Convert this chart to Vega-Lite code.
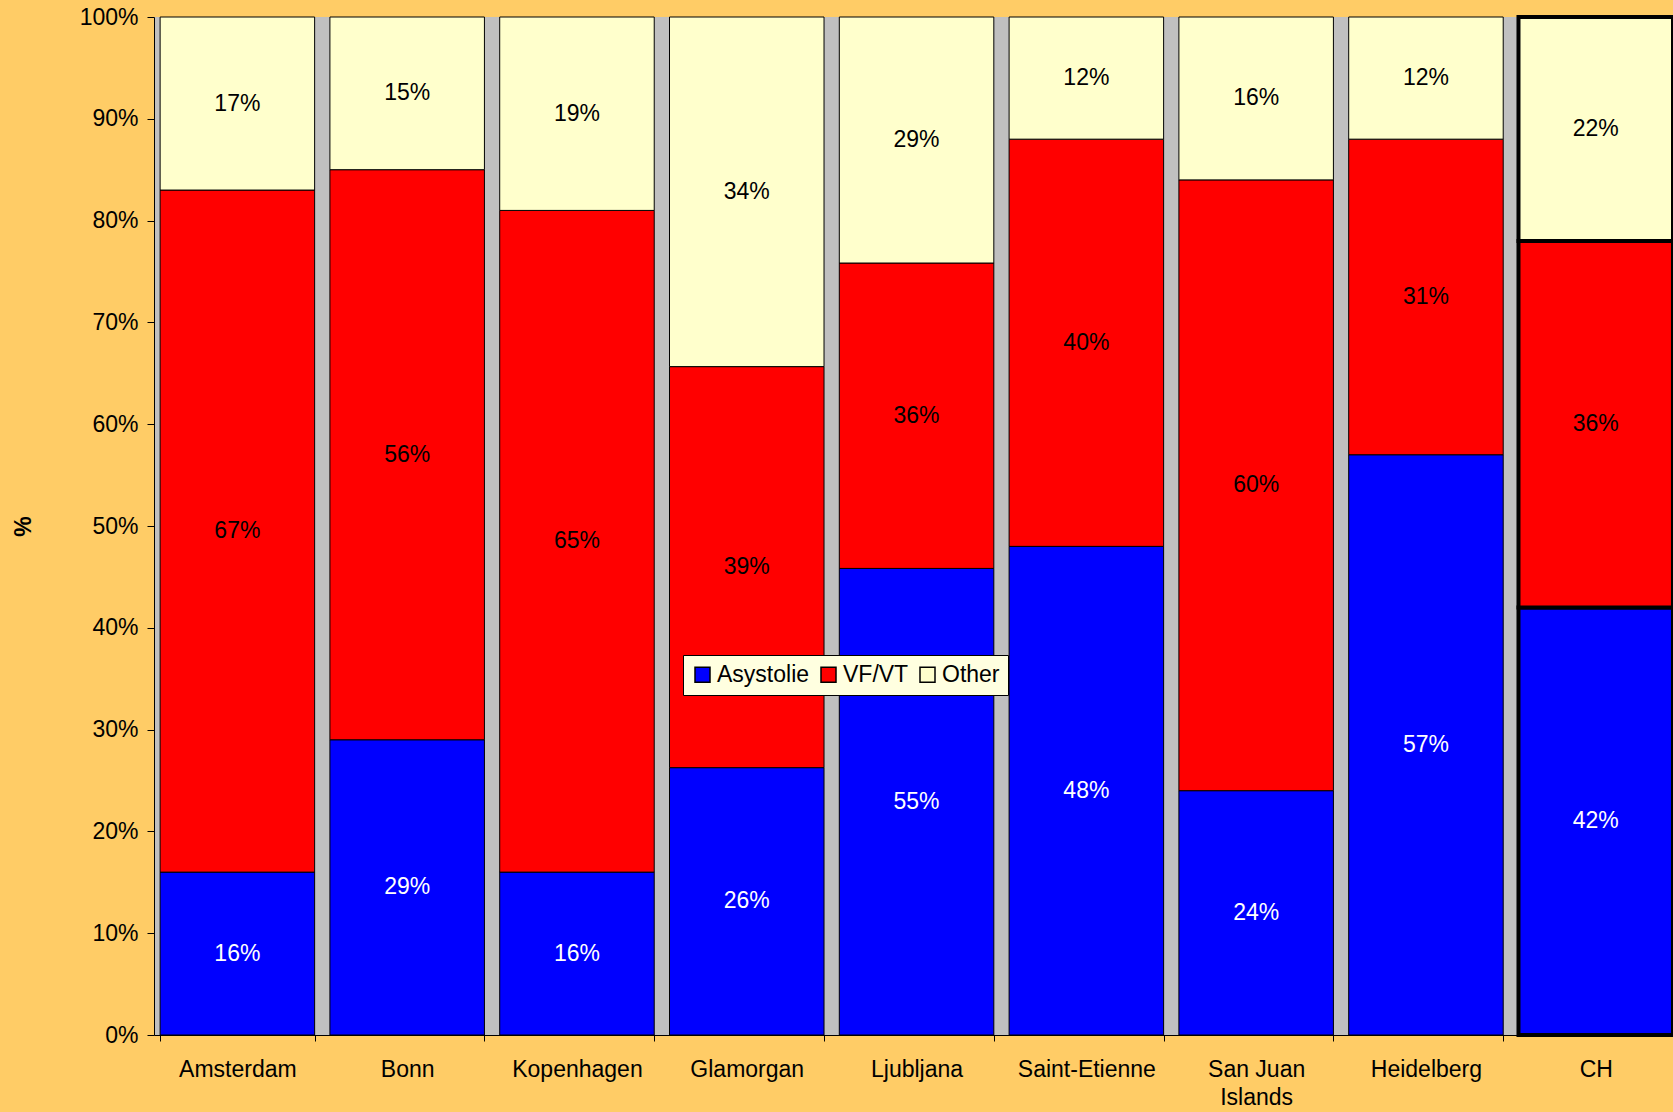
{
  "$schema": "https://vega.github.io/schema/vega-lite/v6.json",
  "width": 1519,
  "height": 1018,
  "autosize": {"type": "none"},
  "padding": {"left": 154, "top": 17, "right": 0, "bottom": 77},
  "background": "#FFCC66",
  "config": {
    "font": "Liberation Sans",
    "view": {"fill": "#C0C0C0", "stroke": null},
    "axis": {"labelFont": "Liberation Sans", "labelFontSize": 23, "labelColor": "black", "domainColor": "black", "tickColor": "black", "grid": false}
  },
  "data": {"values": [
    {"city": "Amsterdam", "type": "Asystolie", "value": 16},
    {"city": "Amsterdam", "type": "VF/VT", "value": 67},
    {"city": "Amsterdam", "type": "Other", "value": 17},
    {"city": "Bonn", "type": "Asystolie", "value": 29},
    {"city": "Bonn", "type": "VF/VT", "value": 56},
    {"city": "Bonn", "type": "Other", "value": 15},
    {"city": "Kopenhagen", "type": "Asystolie", "value": 16},
    {"city": "Kopenhagen", "type": "VF/VT", "value": 65},
    {"city": "Kopenhagen", "type": "Other", "value": 19},
    {"city": "Glamorgan", "type": "Asystolie", "value": 26},
    {"city": "Glamorgan", "type": "VF/VT", "value": 39},
    {"city": "Glamorgan", "type": "Other", "value": 34},
    {"city": "Ljubljana", "type": "Asystolie", "value": 55},
    {"city": "Ljubljana", "type": "VF/VT", "value": 36},
    {"city": "Ljubljana", "type": "Other", "value": 29},
    {"city": "Saint-Etienne", "type": "Asystolie", "value": 48},
    {"city": "Saint-Etienne", "type": "VF/VT", "value": 40},
    {"city": "Saint-Etienne", "type": "Other", "value": 12},
    {"city": "San Juan Islands", "type": "Asystolie", "value": 24},
    {"city": "San Juan Islands", "type": "VF/VT", "value": 60},
    {"city": "San Juan Islands", "type": "Other", "value": 16},
    {"city": "Heidelberg", "type": "Asystolie", "value": 57},
    {"city": "Heidelberg", "type": "VF/VT", "value": 31},
    {"city": "Heidelberg", "type": "Other", "value": 12},
    {"city": "CH", "type": "Asystolie", "value": 42},
    {"city": "CH", "type": "VF/VT", "value": 36},
    {"city": "CH", "type": "Other", "value": 22}
  ]},
  "transform": [
    {"calculate": "indexof(['Asystolie','VF/VT','Other'], datum.type)", "as": "ord"},
    {"stack": "value", "groupby": ["city"], "sort": [{"field": "ord", "order": "ascending"}], "offset": "normalize", "as": ["y0", "y1"]},
    {"calculate": "(datum.y0 + datum.y1) / 2", "as": "ymid"},
    {"calculate": "datum.value + '%'", "as": "label"}
  ],
  "encoding": {
    "x": {
      "field": "city", "type": "nominal", "sort": null, "title": null,
      "scale": {"paddingInner": 0.09, "paddingOuter": 0.018, "align": 1},
      "axis": {"labelAngle": 0, "tickBand": "extent", "tickSize": 6, "labelPadding": 17,
        "labelExpr": "datum.value == 'San Juan Islands' ? ['San Juan', 'Islands'] : datum.value",
        "labelBaseline": "top", "labelLineHeight": 28}
    }
  },
  "layer": [
    {
      "mark": {"type": "bar", "stroke": "black"},
      "encoding": {
        "y": {"field": "y0", "type": "quantitative", "title": "%",
          "scale": {"domain": [0, 1], "nice": false},
          "axis": {"format": ".0%", "values": [0,0.1,0.2,0.3,0.4,0.5,0.6,0.7,0.8,0.9,1], "tickSize": 7, "labelPadding": 9, "labelOverlap": false,
            "titleFontSize": 23, "titleFontWeight": "bold", "titleX": -131, "titleY": 509, "titleAlign": "center", "titleBaseline": "middle", "titleAngle": -90}},
        "y2": {"field": "y1"},
        "color": {"field": "type", "type": "nominal",
          "scale": {"domain": ["Asystolie", "VF/VT", "Other"], "range": ["#0000FF", "#FF0000", "#FFFFCC"]},
          "legend": {"orient": "none", "legendX": 529, "legendY": 638, "direction": "horizontal", "title": null,
            "fillColor": "#FFFFE0", "strokeColor": "black", "padding": 8,
            "symbolType": "square", "symbolSize": 225, "symbolStrokeColor": "black", "symbolStrokeWidth": 1.5,
            "labelFontSize": 23, "labelFont": "Liberation Sans", "labelColor": "black", "columnPadding": 7, "labelOffset": 3}},
        "strokeWidth": {"condition": {"test": "datum.city === 'CH'", "value": 4}, "value": 1}
      }
    },
    {
      "mark": {"type": "text", "fontSize": 23, "font": "Liberation Sans", "baseline": "middle", "align": "center"},
      "encoding": {
        "y": {"field": "ymid", "type": "quantitative", "title": "%",
          "axis": {"format": ".0%", "values": [0,0.1,0.2,0.3,0.4,0.5,0.6,0.7,0.8,0.9,1], "tickSize": 7, "labelPadding": 9, "labelOverlap": false,
            "titleFontSize": 23, "titleFontWeight": "bold", "titleX": -131, "titleY": 509, "titleAlign": "center", "titleBaseline": "middle", "titleAngle": -90}},
        "text": {"field": "label"},
        "color": {"condition": {"test": "datum.type === 'Asystolie'", "value": "white"}, "value": "black"}
      }
    }
  ]
}
